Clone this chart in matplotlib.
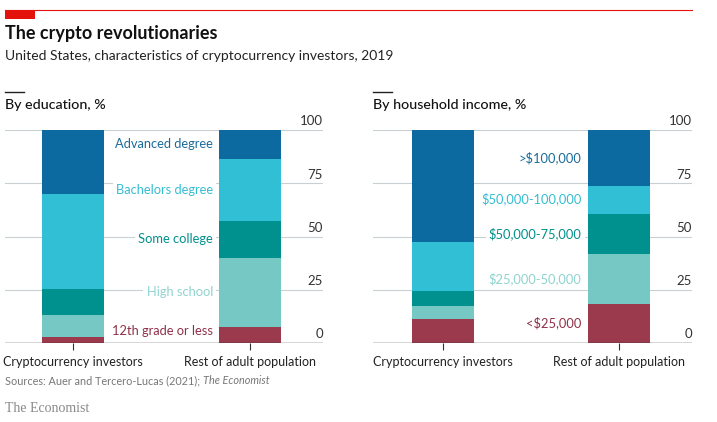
import matplotlib
matplotlib.use("Agg")
import matplotlib.pyplot as plt
from matplotlib.patches import Rectangle
from matplotlib.lines import Line2D

plt.rcParams['font.family'] = ['Lato', 'DejaVu Sans']

groups = ["Cryptocurrency investors", "Rest of adult population"]

edu_cats = ["12th grade or less", "High school", "Some college", "Bachelors degree", "Advanced degree"]
edu_crypto = [2.7, 10.4, 12.4, 44.5, 30.0]
edu_rest = [7.7, 32.3, 17.4, 28.8, 13.8]
edu_label_y = [5.8, 24, 49, 72, 93.4]

inc_cats = ["<$25,000", "$25,000-50,000", "$50,000-75,000", "$50,000-100,000", ">$100,000"]
inc_crypto = [11.4, 5.8, 7.3, 22.9, 52.6]
inc_rest = [18.5, 23.3, 18.6, 13.1, 26.5]
inc_label_y = [9.4, 30.2, 51.3, 67.6, 87]

yticks = [0, 25, 50, 75, 100]

seg_colors = ["#9b3a4d", "#76c8c4", "#00918e", "#30bfd5", "#0d6aa1"]
lab_colors = ["#8f3048", "#8fd3cf", "#00908c", "#34bdd2", "#1a6b9a"]

W, H = 717, 422
fig = plt.figure(figsize=(W / 100, H / 100), dpi=100)

def fx(px):
    return px / W

def fy(py):
    return 1 - py / H

# top red rule and block
fig.add_artist(Line2D([fx(5), fx(692)], [fy(10), fy(10)], color="#e3120b", lw=0.8))
fig.add_artist(Rectangle((fx(5), fy(19)), fx(30), 9 / H, color="#e3120b", lw=0))

fig.text(fx(5), fy(33), "The crypto revolutionaries", fontsize=13, fontweight="bold",
         color="#111111", va="center", ha="left")
fig.text(fx(5), fy(56), "United States, characteristics of cryptocurrency investors, 2019",
         fontsize=10, color="#222222", va="center", ha="left")


def panel(x0, x1, c0, c1, title, cats, crypto, rest, label_y):
    ax = fig.add_axes([fx(x0), fy(343), fx(x1 - x0), (343 - 130) / H])
    scale = c1 - c0
    ax.set_xlim(-(c0 - x0) / scale, 1 + (x1 - c1) / scale)
    ax.set_ylim(0, 100)
    for s in ax.spines.values():
        s.set_visible(False)
    ax.set_yticks([])
    ax.set_xticks([0, 1])
    ax.set_xticklabels(groups, fontsize=9, color="#222222")
    ax.tick_params(axis="x", length=5, width=0.8, color="#333333", pad=4)
    for t in yticks[1:]:
        ax.axhline(t, color="#c8d0d4", lw=0.8, zorder=0)
    ax.axhline(0, color="#333333", lw=1.0, zorder=3)
    for t in yticks:
        ax.text(1 + (x1 - c1) / scale, t + 1.2, str(t), ha="right", va="bottom",
                fontsize=9.5, color="#333333")
    w = 62 / scale
    for xi, vals in zip([0, 1], [crypto, rest]):
        bottom = 0
        for v, col in zip(vals, seg_colors):
            ax.bar(xi, v, bottom=bottom, width=w, color=col, zorder=2, lw=0)
            bottom += v
    lx = (x0 + (213 - 5) * (x1 - x0) / 318 - c0) / scale
    for cat, yy, col in zip(cats, label_y, lab_colors):
        ax.text(lx, yy, cat, ha="right", va="center", fontsize=9.3, color=col, zorder=4,
                bbox=dict(boxstyle="square,pad=0.25", fc="white", ec="none"))
    # panel header
    fig.add_artist(Line2D([fx(x0), fx(x0 + 19)], [fy(92), fy(92)], color="#222222", lw=1.0))
    fig.text(fx(x0), fy(105), title, fontsize=10.3, color="#111111", va="center", ha="left",
             fontweight="medium")
    return ax


panel(5, 323, 73, 250, "By education, %", edu_cats, edu_crypto, edu_rest, edu_label_y)
panel(373, 692, 442.5, 619, "By household income, %", inc_cats, inc_crypto, inc_rest, inc_label_y)

src = fig.text(fx(5), fy(381), "Sources: Auer and Tercero-Lucas (2021);", fontsize=7.8,
               color="#777777", va="center", ha="left")
renderer = fig.canvas.get_renderer()
bb = src.get_window_extent(renderer=renderer)
fig.text((bb.x1 + 3) / W, fy(381), "The Economist", fontsize=7.8, color="#777777",
         va="center", ha="left", style="italic")
fig.text(fx(5), fy(408), "The Economist", fontsize=10, color="#888888", va="center",
         ha="left", family="Liberation Serif")

fig.savefig("out.png", dpi=100)
